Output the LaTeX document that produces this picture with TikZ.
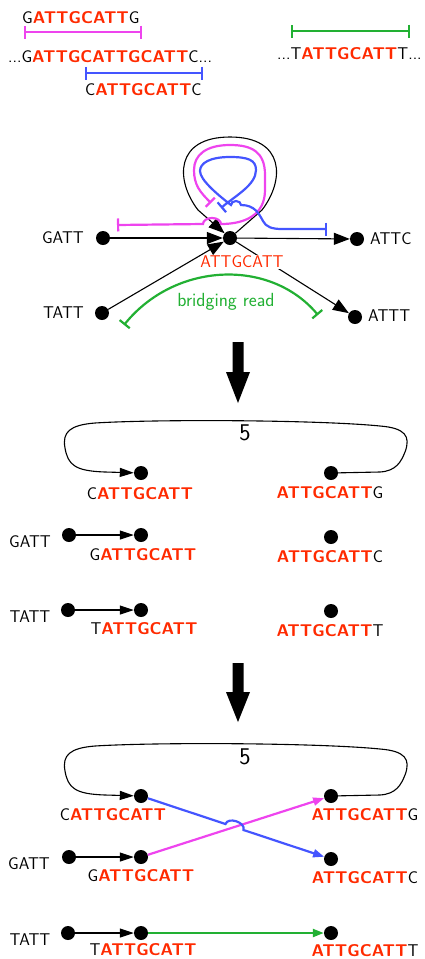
\documentclass[tikz,border=0pt]{standalone}
\usepackage{fontspec}
\usetikzlibrary{arrows.meta}
\definecolor{seqred}{HTML}{FF2A00}
\definecolor{readmag}{HTML}{EE44EE}
\definecolor{readblue}{HTML}{4455FF}
\definecolor{readgreen}{HTML}{22B033}
\newcommand{\rd}[1]{\textcolor{seqred}{\bfseries #1}}
\begin{document}
\begin{tikzpicture}[x=1pt,y=-1pt,
  font=\sffamily\fontsize{17}{20}\selectfont,
  dot/.style={circle,fill=black,inner sep=0pt,minimum size=14pt},
  txt/.style={inner sep=0pt},
  bigedge/.style={line width=1.1pt,-{Triangle[length=16pt,width=12pt]}},
  smalledge/.style={line width=1.1pt,-{Triangle[length=14pt,width=9pt]}},
  readbar/.style={line width=2.2pt,{Bar[width=13pt]}-{Bar[width=13pt]}},
  readarrow/.style={line width=2.2pt,-{Triangle[length=11pt,width=8pt]}},
  bigarrow/.style={fill=black},
  weight/.style={inner sep=0pt,font=\sffamily\fontsize{24}{28}\selectfont}]
\useasboundingbox (0,0) rectangle (425,959);

% ---------- reads over the repeat ----------
\node[txt,anchor=base west] (rm) at (22,23) {G\rd{ATTGCATT}G};
\node[txt,anchor=base west] (gm) at (8,62) {...G\rd{ATTGCATTGCATT}C...};
\node[txt,anchor=base west] (rb) at (85,95) {C\rd{ATTGCATT}C};
\node[txt,anchor=base west] (gt) at (277,59) {...T\rd{ATTGCATT}T...};
\coordinate (ma) at (24,32);  \coordinate (mb) at (142,32);
\coordinate (ba) at (85,73);  \coordinate (bb) at (203,73);
\coordinate (ga) at (291,31); \coordinate (gb) at (410,31);
\draw[readbar,readmag] (ma) -- (mb);
\draw[readbar,readblue] (ba) -- (bb);
\draw[readbar,readgreen] (ga) -- (gb);

% ---------- collapsed repeat graph ----------
\node[dot] (c) at (230,238) {};
\node[dot] (gatt) at (103,238) {};
\node[dot] (tatt) at (102,313) {};
\node[dot] (attc) at (357,239) {};
\node[dot] (attt) at (355,317) {};
\node[txt,anchor=east] (gattl) at (84,238) {GATT};
\node[txt,anchor=east] (tattl) at (84,313) {TATT};
\node[txt,anchor=west] (attcl) at (370,239) {ATTC};
\node[txt,anchor=west] (atttl) at (368,316) {ATTT};

\draw[bigedge] (gatt) -- (c);
\draw[bigedge] (c) -- (attc);
\draw[bigedge] (c) -- (attt);
\draw[bigedge] (c) -- (262,210) .. controls (285,180) and (285,137) .. (230,137)
  .. controls (175,137) and (175,180) .. (198,210) -- (c);
\node[txt,fill=white,inner sep=1pt,text=seqred] (rep) at (242,262) {ATTGCATT};
\draw[bigedge] (tatt) -- (c);

% read spanning the loop from GATT
\draw[readbar,readmag] (117,225) -- (203,224)
  arc[start angle=180,end angle=360,x radius=9,y radius=6]
  .. controls (245,224) and (265,215) .. (265,190) -- (265,175)
  .. controls (265,152) and (252,145) .. (230,145)
  .. controls (206,145) and (194,155) .. (194,170)
  .. controls (194,185) and (200,192) .. (211,203);
% read spanning the loop towards ATTC
\draw[readbar,readblue] (221,208) .. controls (235,196) and (256,185) .. (256,170)
  .. controls (256,160) and (248,157) .. (230,157)
  .. controls (210,157) and (200,163) .. (200,171)
  .. controls (200,180) and (218,195) .. (231,205)
  arc[start angle=180,end angle=360,x radius=5,y radius=4]
  .. controls (255,205) and (259,214) .. (263,221)
  .. controls (266,227) and (272,229) .. (282,229) -- (327,229);
% bridging read
\draw[readbar,readgreen] (124,325) .. controls (175,262) and (270,258) .. (318,315);
\node[txt,text=readgreen,font=\sffamily\fontsize{19}{22}\selectfont] (brl) at (226,302) {bridging read};

% ---------- first step ----------
\fill[bigarrow] (232.5,342) -- (243.5,342) -- (243.5,372) -- (250,372) -- (238,403)
  -- (226,372) -- (232.5,372) -- cycle;

\node[dot] (l1) at (141,473) {};
\node[dot] (l2) at (141,535) {};
\node[dot] (l3) at (141,610) {};
\node[dot] (r1) at (331,473) {};
\node[dot] (r2) at (331,537) {};
\node[dot] (r3) at (331,611) {};
\node[dot] (g3) at (69,535) {};
\node[dot] (t3) at (68,610) {};
\node[txt] (g3l) at (30,542) {GATT};
\node[txt] (t3l) at (30,617) {TATT};
\node[txt] (l1l) at (140,494) {C\rd{ATTGCATT}};
\node[txt] (l2l) at (143,555) {G\rd{ATTGCATT}};
\node[txt] (l3l) at (144,629) {T\rd{ATTGCATT}};
\node[txt] (r1l) at (330,493) {\rd{ATTGCATT}G};
\node[txt] (r2l) at (330,557) {\rd{ATTGCATT}C};
\node[txt] (r3l) at (330,631) {\rd{ATTGCATT}T};
\draw[smalledge] (g3) -- (l2);
\draw[smalledge] (t3) -- (l3);
\draw[smalledge] (r1) -- (380,472) .. controls (396,471) and (401,462) .. (405,452)
  .. controls (411,436) and (405,428) .. (380,426)
  .. controls (320,420) and (160,419) .. (95,423)
  .. controls (70,425) and (62,432) .. (65,448)
  .. controls (68,465) and (75,471) .. (105,472) -- (l1);
\node[weight] (w3) at (245,433) {5};

% ---------- second step ----------
\fill[bigarrow] (232.5,663) -- (243.5,663) -- (243.5,692) -- (250,692) -- (238,722)
  -- (226,692) -- (232.5,692) -- cycle;

\node[dot] (p1) at (141,796) {};
\node[dot] (p2) at (141,857) {};
\node[dot] (p3) at (141,933) {};
\node[dot] (q1) at (331,796) {};
\node[dot] (q2) at (331,859) {};
\node[dot] (q3) at (331,933) {};
\node[dot] (g4) at (69,857) {};
\node[dot] (t4) at (68,933) {};
\node[txt] (g4l) at (29,864) {GATT};
\node[txt] (t4l) at (30,940) {TATT};
\node[txt] (p1l) at (113,815) {C\rd{ATTGCATT}};
\node[txt] (p2l) at (141,876) {G\rd{ATTGCATT}};
\node[txt] (p3l) at (143,950) {T\rd{ATTGCATT}};
\node[txt] (q1l) at (365,815) {\rd{ATTGCATT}G};
\node[txt] (q2l) at (365,878) {\rd{ATTGCATT}C};
\node[txt] (q3l) at (365,951) {\rd{ATTGCATT}T};
\draw[smalledge] (g4) -- (p2);
\draw[smalledge] (t4) -- (p3);
\draw[smalledge] (q1) -- (380,795) .. controls (396,794) and (401,785) .. (405,775)
  .. controls (411,759) and (405,751) .. (380,749)
  .. controls (320,743) and (160,742) .. (95,746)
  .. controls (70,748) and (62,755) .. (65,771)
  .. controls (68,788) and (75,794) .. (105,795) -- (p1);
\node[weight] (w4) at (245,757) {5};

\draw[readarrow,readmag] (p2) -- (q1);
\draw[readarrow,readblue] (p1) -- (225.5,824)
  .. controls (228,816.4) and (246,822.4) .. (243.5,830) -- (q2);
\draw[readarrow,readgreen] (p3) -- (q3);
\end{tikzpicture}
\end{document}
